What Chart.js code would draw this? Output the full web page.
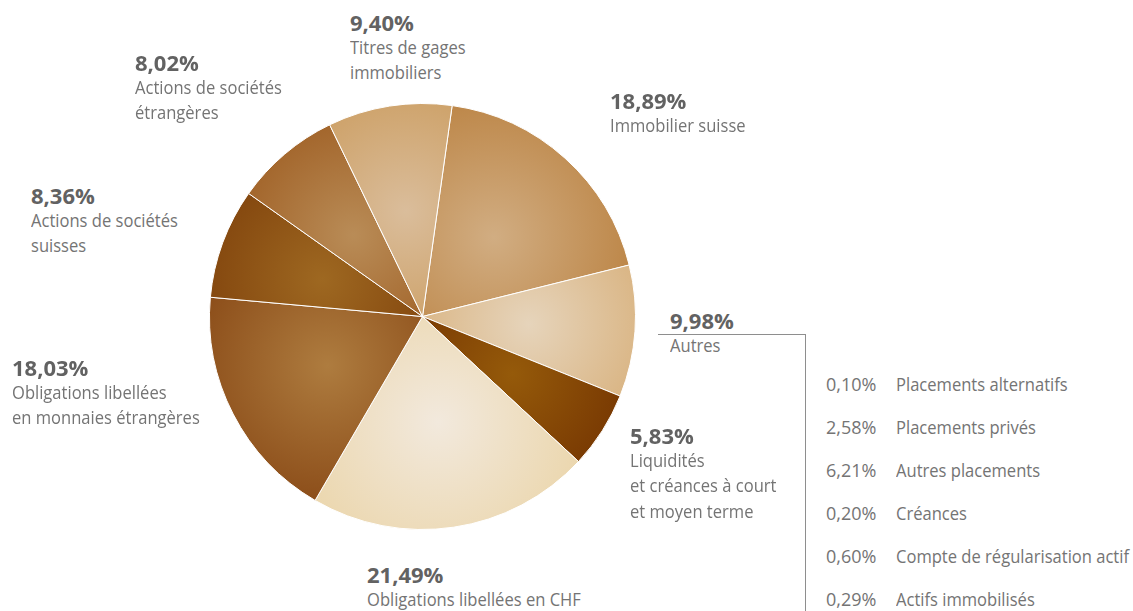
<!DOCTYPE html>
<html lang="fr">
<head>
<meta charset="utf-8">
<title>Répartition des placements</title>
<script src="https://cdn.jsdelivr.net/npm/chart.js@4/dist/chart.umd.min.js"></script>
<style>
  html, body { margin: 0; padding: 0; background: #fff; }
  body { width: 1133px; height: 611px; position: relative; overflow: hidden; font-family: "Open Sans", sans-serif; }
  #pieBox { position: absolute; left: 209px; top: 103px; width: 427px; height: 427px; }
  .lbl { position: absolute; white-space: nowrap; }
  .lbl .pct { font-weight: 700; font-size: 22px; line-height: 26px; color: #626262; }
  .lbl .txt { font-size: 18px; line-height: 25.5px; color: #747474; transform: scaleX(0.92); transform-origin: left center; }
  #bracket { position: absolute; left: 658px; top: 334px; width: 147px; height: 290px; border-top: 1px solid #8e8e8e; border-right: 1px solid #8e8e8e; }
  #detail { position: absolute; left: 826px; top: 363px; font-size: 18px; line-height: 43px; color: #747474; }
  #detail .row { white-space: nowrap; }
  #detail .v { display: inline-block; width: 70px; }
  #detail .n { display: inline-block; transform: scaleX(0.92); transform-origin: left center; }
</style>
</head>
<body>
<div id="pieBox"><canvas id="pie"></canvas></div>
<div id="bracket"></div>
<div id="labels"></div>
<div id="detail"></div>

<script>
// parts du portefeuille (%), dans le sens horaire depuis le haut
const categories = [
  ['Immobilier suisse'],
  ['Autres'],
  ['Liquidités', 'et créances à court', 'et moyen terme'],
  ['Obligations libellées en CHF'],
  ['Obligations libellées', 'en monnaies étrangères'],
  ['Actions de sociétés', 'suisses'],
  ['Actions de sociétés', 'étrangères'],
  ['Titres de gages', 'immobiliers']
];
const shares = [18.89, 9.98, 5.83, 21.49, 18.03, 8.36, 8.02, 9.40];

// détail de la part « Autres »
const otherNames = ['Placements alternatifs', 'Placements privés', 'Autres placements', 'Créances', 'Compte de régularisation actif', 'Actifs immobilisés'];
const otherShares = [0.10, 2.58, 6.21, 0.20, 0.60, 0.29];

// teinte claire (milieu du secteur) et foncée (bord)
const lightTones = ['#d1ad82', '#e6d4bb', '#955a0a', '#f2e9dd', '#ae7c3f', '#9e6821', '#b98c57', '#dabd9b'];
const darkTones  = ['#bb8343', '#d6ac74', '#6f2e00', '#ebd6ac', '#884815', '#7c3d09', '#9b581c', '#ca9a5b'];

const rotationDeg = 8;

const fmt = v => v.toFixed(2).replace('.', ',') + '%';

// position des étiquettes (coin haut gauche du bloc)
const labelPos = [
  [610, 86.5], [670, 306.5], [630, 421.5], [367, 560.5],
  [12, 353.5], [31, 181.5], [135, 48.5], [350, 8.5]
];

const labelsEl = document.getElementById('labels');
categories.forEach((lines, i) => {
  const d = document.createElement('div');
  d.className = 'lbl';
  d.style.left = labelPos[i][0] + 'px';
  d.style.top = labelPos[i][1] + 'px';
  let html = '<div class="pct">' + fmt(shares[i]) + '</div>';
  lines.forEach(t => { html += '<div class="txt">' + t + '</div>'; });
  d.innerHTML = html;
  labelsEl.appendChild(d);
});

const detailEl = document.getElementById('detail');
otherNames.forEach((name, i) => {
  const r = document.createElement('div');
  r.className = 'row';
  r.innerHTML = '<span class="v">' + fmt(otherShares[i]) + '</span><span class="n">' + name + '</span>';
  detailEl.appendChild(r);
});

// dégradé radial centré à mi-rayon sur la bissectrice de chaque secteur
function sliceFill(ctx) {
  const i = ctx.dataIndex;
  const chart = ctx.chart;
  const area = chart.chartArea;
  if (!area) return darkTones[i];
  const cx = (area.left + area.right) / 2;
  const cy = (area.top + area.bottom) / 2;
  const r = Math.min(area.right - area.left, area.bottom - area.top) / 2;
  const total = shares.reduce((a, b) => a + b, 0);
  let before = 0;
  for (let k = 0; k < i; k++) before += shares[k];
  const mid = before + shares[i] / 2;
  const a = (rotationDeg + mid / total * 360 - 90) * Math.PI / 180;
  const gx = cx + Math.cos(a) * r * 0.5;
  const gy = cy + Math.sin(a) * r * 0.5;
  const g = chart.ctx.createRadialGradient(gx, gy, 0, gx, gy, r * 0.72);
  g.addColorStop(0, lightTones[i]);
  g.addColorStop(1, darkTones[i]);
  return g;
}

new Chart(document.getElementById('pie'), {
  type: 'pie',
  data: {
    labels: categories,
    datasets: [{
      data: shares,
      backgroundColor: sliceFill,
      borderColor: '#ffffff',
      borderWidth: 1
    }]
  },
  options: {
    responsive: true,
    maintainAspectRatio: false,
    animation: false,
    rotation: rotationDeg,
    layout: { padding: 0 },
    events: [],
    plugins: {
      legend: { display: false },
      tooltip: { enabled: false }
    }
  }
});
</script>
</body>
</html>
